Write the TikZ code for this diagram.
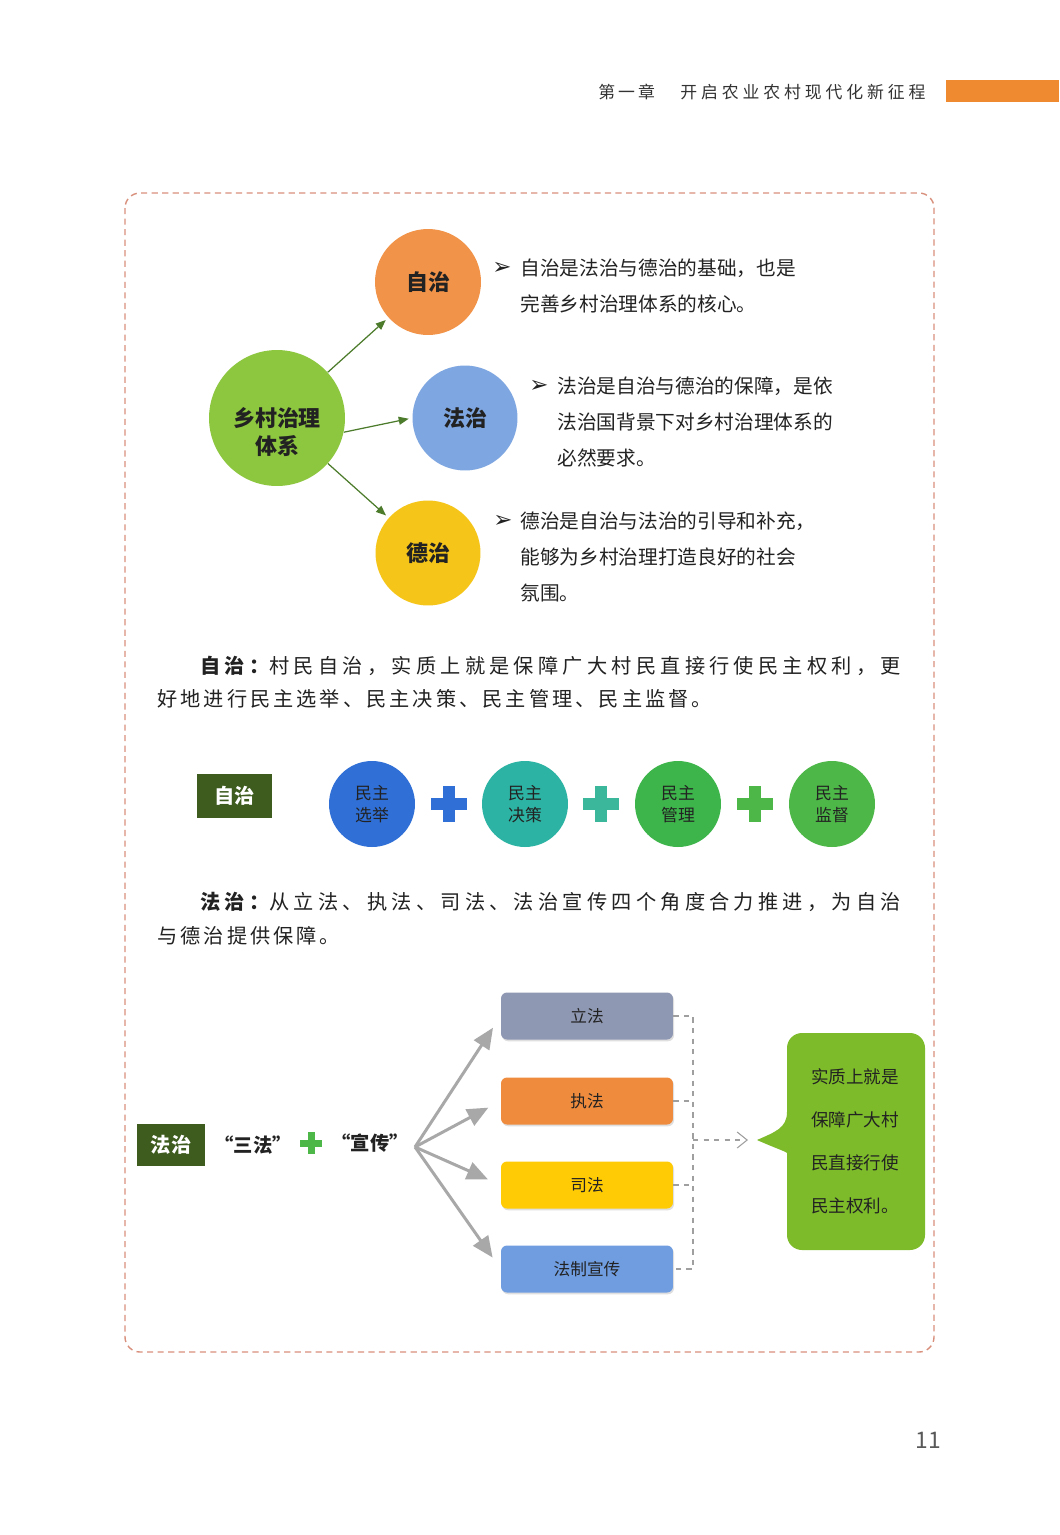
\documentclass[tikz,border=0pt]{standalone}
\usepackage{fontspec}
\setmainfont{Noto Sans CJK SC}
\newfontfamily\dingfont{DejaVu Sans}
\usepackage{tikz}
\usetikzlibrary{arrows.meta,positioning,calc,shadows}
\definecolor{barorange}{HTML}{F08A30}
\definecolor{framered}{HTML}{D8907C}
\definecolor{ballorange}{HTML}{F19349}
\definecolor{ballgreen}{HTML}{8DC63F}
\definecolor{ballblue}{HTML}{7EA6E0}
\definecolor{ballyellow}{HTML}{F6C51A}
\definecolor{arrowgreen}{HTML}{4B7B2B}
\definecolor{tagdark}{HTML}{3E5C1E}
\definecolor{xjblue}{HTML}{2F6FD6}
\definecolor{jcteal}{HTML}{2DB3A3}
\definecolor{glgreen}{HTML}{3DB54A}
\definecolor{jdgreen}{HTML}{4DB848}
\definecolor{plusteal}{HTML}{3BB89B}
\definecolor{lifagray}{HTML}{8F98B2}
\definecolor{zhifaorange}{HTML}{EE8B3D}
\definecolor{sifayellow}{HTML}{FFCB05}
\definecolor{xcblue}{HTML}{6F9DE0}
\definecolor{callgreen}{HTML}{7DBB2A}
\definecolor{fangray}{HTML}{A8A8A8}
\definecolor{textdark}{HTML}{222222}
\newcommand{\plusmark}[5]{%
  \fill[#5] (#1-#3,#2-#4) rectangle (#1+#3,#2+#4);
  \fill[#5] (#1-#4,#2-#3) rectangle (#1+#4,#2+#3);}
\newcommand{\spaced}[1]{\addfontfeature{LetterSpace=#1}}

\begin{document}
\begin{tikzpicture}[x=0.02cm, y=-0.02cm,
  ball/.style={circle, inner sep=0pt, minimum size=#1, text=textdark},
  topic/.style={font=\fontsize{12.5}{16}\selectfont\bfseries, text=textdark},
  note/.style={anchor=west, inner sep=0pt, text=textdark, font=\fontsize{11.2}{13}\selectfont},
  tip/.style={anchor=west, inner sep=0pt, text=textdark, font=\dingfont\fontsize{13}{14}\selectfont},
  para/.style={anchor=west, inner sep=0pt, text=textdark, font=\fontsize{11.5}{13}\selectfont},
  tag/.style={fill=tagdark, text=white, inner sep=0pt, font=\fontsize{11.5}{13}\selectfont\bfseries},
  pair/.style={align=center, font=\fontsize{9.6}{12.5}\selectfont},
  lawbox/.style={rounded corners=0.12cm, minimum width=3.44cm, minimum height=0.94cm,
    text=textdark, font=\fontsize{9.5}{11}\selectfont,
    drop shadow={shadow xshift=0.6pt, shadow yshift=-1pt, opacity=0.25}},
  garrow/.style={-{Triangle[length=0.2cm, width=0.16cm]}, arrowgreen, line width=0.7pt, shorten >=2pt},
  fanarrow/.style={-{Triangle[length=0.42cm, width=0.36cm]}, fangray, line width=1.7pt, shorten >=0.28cm},
  linkline/.style={gray!75, dashed, line width=0.6pt}]
  \path[use as bounding box, fill=white] (0,0) rectangle (1059,1535);

  % Page header
  \node[anchor=west, inner sep=0pt, font=\fontsize{9.6}{11}\selectfont, text=black!80] (chapno) at (598,92) {\spaced{18}第一章};
  \node[anchor=west, inner sep=0pt, font=\fontsize{9.6}{11}\selectfont, text=black!80] (chaptitle) at (680,92) {\spaced{23}开启农业农村现代化新征程};
  \fill[barorange] (946,80) rectangle (1059,102);

  % Dashed frame
  \draw[framered, line width=0.8pt, dash pattern=on 3.5pt off 2.5pt, rounded corners=0.3cm] (125,193) rectangle (934,1352);

  % Three pillars
  \node[ball=2.72cm, fill=ballgreen] (system) at (277,418) {};
  \node[topic, align=center] (systemtext) at ($(system)+(0,14)$) {乡村治理\\体系};
  \node[ball=2.12cm, fill=ballorange, topic] (selfgov) at (428,282) {自治};
  \node[ball=2.1cm, fill=ballblue, topic] (lawgov) at (465,418) {法治};
  \node[ball=2.1cm, fill=ballyellow, topic] (virtuegov) at (428,553) {德治};
  \draw[garrow] (system) -- (selfgov);
  \draw[garrow] (system.-12) -- (lawgov.west);
  \draw[garrow] (system) -- (virtuegov);

  % Notes
  \node[tip] (tipA) at (492,268) {➢};
  \node[note] (noteA1) at (520,268) {自治是法治与德治的基础，也是};
  \node[note] (noteA2) at (520,304) {完善乡村治理体系的核心。};
  \node[tip] (tipB) at (529,386) {➢};
  \node[note] (noteB1) at (557,386) {法治是自治与德治的保障，是依};
  \node[note] (noteB2) at (557,422) {法治国背景下对乡村治理体系的};
  \node[note] (noteB3) at (557,458) {必然要求。};
  \node[tip] (tipC) at (493,521) {➢};
  \node[note] (noteC1) at (520,521) {德治是自治与法治的引导和补充，};
  \node[note] (noteC2) at (520,557) {能够为乡村治理打造良好的社会};
  \node[note] (noteC3) at (520,593) {氛围。};

  % Self-governance
  \node[para] (zzlead) at (200,666) {\spaced{21}{\bfseries 自治：}村民自治，实质上就是保障广大村民直接行使民主权利，更};
  \node[para] (zzrest) at (157,699) {\spaced{15}好地进行民主选举、民主决策、民主管理、民主监督。};

  \node[tag, minimum width=1.5cm, minimum height=0.88cm] (zztag) at (234.5,796) {自治};
  \node[ball=1.72cm, fill=xjblue, pair] (xuanju) at (372,804) {民主\\选举};
  \node[ball=1.72cm, fill=jcteal, pair] (juece) at (525,804) {民主\\决策};
  \node[ball=1.72cm, fill=glgreen, pair] (guanli) at (678,804) {民主\\管理};
  \node[ball=1.72cm, fill=jdgreen, pair] (jiandu) at (832,804) {民主\\监督};
  \plusmark{449}{804}{18}{6}{xjblue}
  \plusmark{601}{804}{18}{6}{plusteal}
  \plusmark{755}{804}{18}{6}{jdgreen}

  % Rule of law
  \node[para] (fzlead) at (200,902) {\spaced{21}{\bfseries 法治：}从立法、执法、司法、法治宣传四个角度合力推进，为自治};
  \node[para] (fzrest) at (157,936) {\spaced{15}与德治提供保障。};

  \node[tag, minimum width=1.36cm, minimum height=0.84cm] (fztag) at (171,1145) {法治};
  \node[inner sep=0pt, font=\fontsize{11}{13}\selectfont\bfseries, text=textdark] (sanfa) at (253,1145) {“三法”};
  \plusmark{311}{1143}{11}{3.5}{jdgreen}
  \node[inner sep=0pt, font=\fontsize{11}{13}\selectfont\bfseries, text=textdark] (xuanchuan) at (370,1143) {“宣传”};
  \coordinate (fan) at (415,1147);

  \node[lawbox, fill=lifagray] (lifa) at (587,1016) {立法};
  \node[lawbox, fill=zhifaorange] (zhifa) at (587,1101) {执法};
  \node[lawbox, fill=sifayellow] (sifa) at (587,1185) {司法};
  \node[lawbox, fill=xcblue] (xcbox) at (587,1269) {法制宣传};
  \foreach \b in {lifa,zhifa,sifa,xcbox}
    \draw[fanarrow] (fan) -- (\b.west);

  % Bracket and callout
  \coordinate (joint) at (693,1140);
  \coordinate (calltip) at (757,1140);
  \draw[linkline] (lifa.east) -| (xcbox.east -| joint) -- (xcbox.east);
  \draw[linkline] (zhifa.east) -- (zhifa.east -| joint);
  \draw[linkline] (sifa.east) -- (sifa.east -| joint);
  \draw[linkline, -{Straight Barb[length=0.2cm, width=0.32cm]}, shorten >=0.18cm] (joint) -- (calltip);

  \fill[callgreen, rounded corners=0.3cm] (787,1112) -- (787,1033) -- (925,1033) -- (925,1250)
    -- (787,1250) -- (787,1168) [sharp corners] .. controls (787,1152) and (775,1148) .. (calltip)
    .. controls (775,1132) and (787,1128) .. (787,1112) -- cycle;
  \node[font=\fontsize{10}{12}\selectfont, text=textdark] (callA) at (855,1077) {实质上就是};
  \node[font=\fontsize{10}{12}\selectfont, text=textdark] (callB) at (855,1120) {保障广大村};
  \node[font=\fontsize{10}{12}\selectfont, text=textdark] (callC) at (855,1163) {民直接行使};
  \node[font=\fontsize{10}{12}\selectfont, text=textdark] (callD) at (855,1206) {民主权利。};

  % Page number
  \node[font=\fontsize{13}{15}\selectfont, text=black!65] (pageno) at (928,1440) {11};
\end{tikzpicture}
\end{document}
